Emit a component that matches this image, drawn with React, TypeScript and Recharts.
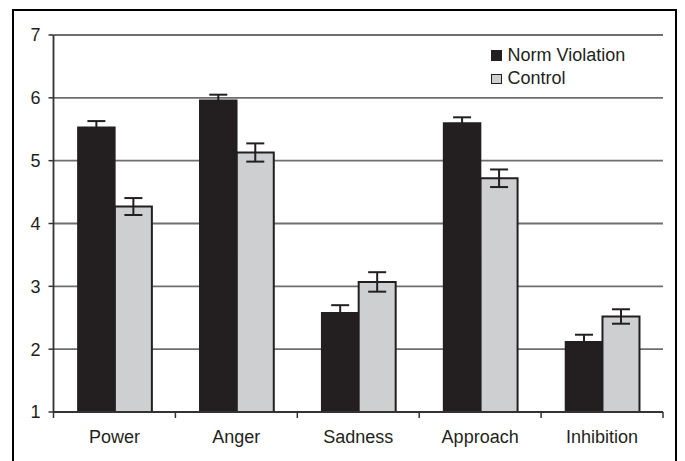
import React from 'react';
import { BarChart, Bar, XAxis, YAxis, CartesianGrid, ErrorBar, Legend } from 'recharts';

const categories = ['Power', 'Anger', 'Sadness', 'Approach', 'Inhibition'];
const normViolation = [5.53, 5.96, 2.58, 5.6, 2.12];
const control = [4.27, 5.13, 3.07, 4.72, 2.52];
const normViolationError = [0.1, 0.09, 0.12, 0.09, 0.11];
const controlError = [0.135, 0.145, 0.155, 0.14, 0.115];
const yTicks = [1, 2, 3, 4, 5, 6, 7];

const data = categories.map((name, i) => ({
  name,
  nv: normViolation[i],
  ctrl: control[i],
  nvErr: normViolationError[i],
  ctrlErr: controlError[i],
}));

const FONT = '"Liberation Sans", Arial, sans-serif';
const DARK = '#231f20';
const GRAY = '#cdcfd1';

const CHART_W = 685;
const CHART_H = 461;
const MARGIN = { top: 35, right: 22, bottom: 0, left: 3 };
const Y_AXIS_W = 50.5;
const X_AXIS_H = 49;
const TICK_SIZE = 6;
const TICK_MARGIN = 12;

const XTick = (props: any) => {
  const { x, y, payload, index } = props;
  const plotW = CHART_W - MARGIN.left - MARGIN.right - Y_AXIS_W;
  const bw = plotW / categories.length;
  const axisY = y - TICK_SIZE - TICK_MARGIN;
  return (
    <g>
      <line x1={x - bw / 2} x2={x - bw / 2} y1={axisY} y2={axisY + TICK_SIZE} stroke="#333" strokeWidth={1.5} />
      {index === categories.length - 1 && (
        <line x1={x + bw / 2} x2={x + bw / 2} y1={axisY} y2={axisY + TICK_SIZE} stroke="#333" strokeWidth={1.5} />
      )}
      <text x={x} y={y} dy="0.71em" textAnchor="middle" fill={DARK} fontSize={18} fontFamily={FONT}>
        {payload.value}
      </text>
    </g>
  );
};

const LegendContent = () => {
  const items = [
    { label: 'Norm Violation', fill: DARK },
    { label: 'Control', fill: GRAY },
  ];
  return (
    <div style={{ fontFamily: FONT, fontSize: 18, color: DARK }}>
      {items.map((it) => (
        <div key={it.label} style={{ display: 'flex', alignItems: 'center', height: 23.5, whiteSpace: 'nowrap' }}>
          <span
            style={{
              display: 'inline-block',
              width: 10.5,
              height: 10.5,
              boxSizing: 'border-box',
              background: it.fill,
              border: `1.5px solid ${DARK}`,
              marginRight: 6,
            }}
          />
          <span>{it.label}</span>
        </div>
      ))}
    </div>
  );
};

export default function App() {
  return (
    <div style={{ position: 'absolute', left: 0, top: 0, width: CHART_W, height: CHART_H, background: '#fff', overflow: 'hidden' }}>
      <div
        style={{
          position: 'absolute',
          left: 12,
          top: 9,
          width: 665,
          height: 470,
          boxSizing: 'border-box',
          border: '2.6px solid #000',
          borderBottom: 'none',
        }}
      />
      <div style={{ position: 'absolute', left: 0, top: 0 }}>
        <BarChart
          width={CHART_W}
          height={CHART_H}
          data={data}
          margin={MARGIN}
          barCategoryGap="20%"
          barGap={0}
        >
          <CartesianGrid vertical={false} stroke="#6e6e6e" strokeWidth={1.8} />
          <XAxis
            dataKey="name"
            axisLine={{ stroke: '#333', strokeWidth: 1.8 }}
            tickLine={false}
            tickSize={TICK_SIZE}
            tickMargin={TICK_MARGIN}
            height={X_AXIS_H}
            tick={<XTick />}
            interval={0}
          />
          <YAxis
            domain={[1, 7]}
            ticks={yTicks}
            width={Y_AXIS_W}
            axisLine={{ stroke: '#333', strokeWidth: 1.8 }}
            tickLine={{ stroke: '#333', strokeWidth: 1.5 }}
            tickSize={5}
            tickMargin={8}
            tick={{ fill: DARK, fontSize: 18, fontFamily: FONT }}
            allowDataOverflow
          />
          <YAxis
            yAxisId="r"
            orientation="right"
            domain={[1, 7]}
            width={0}
            tick={false}
            tickLine={false}
            axisLine={{ stroke: '#a8a8a8', strokeWidth: 1.8 }}
          />
          <Legend
            layout="vertical"
            align="center"
            verticalAlign="middle"
            content={<LegendContent />}
            wrapperStyle={{ top: 43.5, left: 491, width: 'auto', height: 'auto' }}
          />
          <Bar dataKey="nv" name="Norm Violation" fill={DARK} stroke={DARK} strokeWidth={1.5} isAnimationActive={false}>
            <ErrorBar dataKey="nvErr" width={9} stroke={DARK} strokeWidth={2} />
          </Bar>
          <Bar dataKey="ctrl" name="Control" fill={GRAY} stroke={DARK} strokeWidth={2} isAnimationActive={false}>
            <ErrorBar dataKey="ctrlErr" width={9} stroke={DARK} strokeWidth={2} />
          </Bar>
        </BarChart>
      </div>
    </div>
  );
}
